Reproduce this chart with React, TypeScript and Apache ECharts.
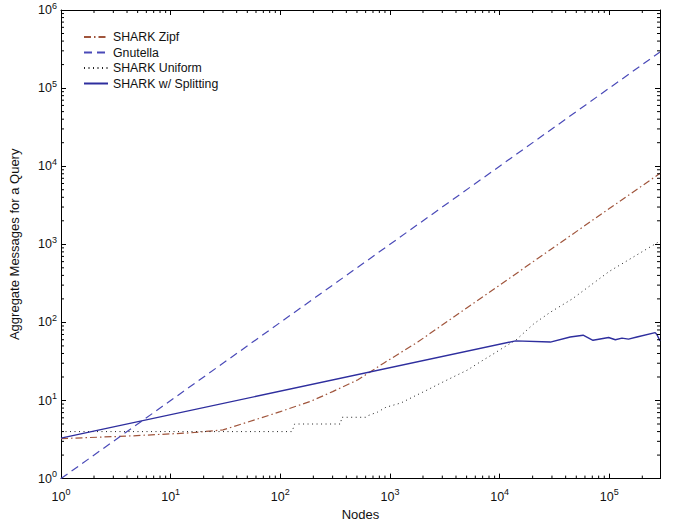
import React, { useEffect, useRef } from "react";
import * as echarts from "echarts";

const X_MIN = 1;
const X_MAX = 290000;
const Y_MIN = 1;
const Y_MAX = 1000000;

const gnutellaNodes = [1, 10, 100, 1000, 10000, 100000, 290000];
const gnutella = [1, 10, 100, 1000, 10000, 100000, 290000];

const zipfNodes = [1, 4, 15, 30, 67, 100, 190, 300, 440, 510, 890, 1790, 10000, 100000, 290000];
const zipf = [3.25, 3.5, 3.85, 4.2, 6.0, 7.2, 9.8, 13, 16.7, 18.4, 30.5, 56, 300, 2870, 8100];

const uniformNodes = [1, 128, 135, 355, 362, 600, 630, 770, 920, 1260, 1660, 2200, 2900, 3850, 5100, 6700, 8900, 11700, 14000, 20500, 29000, 46000, 100000, 290000];
const uniform = [4.0, 4.0, 5.0, 5.0, 6.1, 6.1, 6.4, 7.1, 8.2, 9.3, 11.3, 13.7, 16.7, 20.3, 24.6, 31.4, 40, 51, 59, 96, 135, 200, 450, 1100];

const splitNodes = [1, 14000, 29000, 44000, 57700, 71000, 98600, 113500, 130400, 149700, 178500, 262000, 271500, 290000];
const split = [3.3, 58, 56, 65, 68.5, 59, 64, 60, 63, 61, 65, 74, 70, 58];

const seriesNames = ["SHARK Zipf", "Gnutella", "SHARK Uniform", "SHARK w/ Splitting"];

const FONT = "'Liberation Sans', Arial, Helvetica, sans-serif";

function minorValues(min: number, max: number): number[] {
  const out: number[] = [];
  for (let e = 0; e <= 6; e++) {
    for (let m = 2; m <= 9; m++) {
      const v = m * Math.pow(10, e);
      if (v > min && v < max) out.push(v);
    }
  }
  return out;
}

function pairs(xs: number[], ys: number[]) {
  return xs.map((x, i) => [x, ys[i]]);
}

function expLabel(v: number) {
  const l = Math.log10(v);
  const e = Math.round(l);
  if (Math.abs(l - e) > 1e-6) return "";
  return `{b|10}{s|${e}}`;
}

const richLabel = {
  b: { fontSize: 12.5, fontFamily: FONT, color: "#111" },
  s: { fontSize: 9, fontFamily: FONT, color: "#111", padding: [0, 0, 9, 0] },
};

export default function App() {
  const ref = useRef<HTMLDivElement>(null);
  useEffect(() => {
    if (!ref.current) return;
    const chart = echarts.init(ref.current, undefined, { renderer: "svg" });
    const minorX = minorValues(X_MIN, X_MAX);
    const minorY = minorValues(Y_MIN, Y_MAX);
    const axisCommon = {
      type: "log" as const,
      logBase: 10,
      splitLine: { show: false },
      axisLine: { onZero: false, lineStyle: { color: "#000", width: 1 } },
      axisTick: { inside: true, length: 5, lineStyle: { color: "#000" } },
    };
    chart.setOption({
      animation: false,
      backgroundColor: "#fff",
      textStyle: { fontFamily: FONT },
      grid: { left: 59, top: 10, right: 23, bottom: 43 },
      legend: {
        data: seriesNames,
        orient: "vertical",
        left: 78,
        top: 26,
        itemWidth: 24,
        itemHeight: 14,
        itemGap: 3.5,
        itemStyle: { opacity: 0 },
        textStyle: { fontSize: 12.3, fontFamily: FONT, color: "#111" },
      },
      xAxis: [
        {
          ...axisCommon,
          min: X_MIN,
          max: X_MAX,
          position: "bottom",
          name: "Nodes",
          nameLocation: "middle",
          nameGap: 26,
          nameTextStyle: { fontSize: 13, fontFamily: FONT, color: "#111" },
          axisLabel: { formatter: expLabel, rich: richLabel, margin: 9, showMaxLabel: false },
        },
        {
          ...axisCommon,
          min: X_MIN,
          max: X_MAX,
          position: "top",
          axisLabel: { show: false },
        },
      ],
      yAxis: [
        {
          ...axisCommon,
          min: Y_MIN,
          max: Y_MAX,
          position: "left",
          name: "Aggregate Messages for a Query",
          nameLocation: "middle",
          nameGap: 40,
          nameTextStyle: { fontSize: 13, fontFamily: FONT, color: "#111" },
          axisLabel: { formatter: expLabel, rich: richLabel, margin: 4 },
        },
        {
          ...axisCommon,
          min: Y_MIN,
          max: Y_MAX,
          position: "right",
          axisLabel: { show: false },
        },
      ],
      series: [
        {
          name: "SHARK Zipf",
          type: "line",
          data: pairs(zipfNodes, zipf),
          symbol: "none",
          lineStyle: { color: "#a0553c", width: 1.2, type: [7, 3, 1.5, 3] },
          itemStyle: { color: "#a0553c" },
          z: 3,
        },
        {
          name: "Gnutella",
          type: "line",
          data: pairs(gnutellaNodes, gnutella),
          symbol: "none",
          lineStyle: { color: "#4a4ab8", width: 1.2, type: [8, 5] },
          itemStyle: { color: "#4a4ab8" },
          z: 3,
        },
        {
          name: "SHARK Uniform",
          type: "line",
          data: pairs(uniformNodes, uniform),
          symbol: "none",
          lineStyle: { color: "#222", width: 1, type: [1, 3.5] },
          itemStyle: { color: "#222" },
          z: 3,
        },
        {
          name: "SHARK w/ Splitting",
          type: "line",
          data: pairs(splitNodes, split),
          symbol: "none",
          lineStyle: { color: "#2e2e9e", width: 1.4, type: "solid" },
          itemStyle: { color: "#2e2e9e" },
          z: 4,
        },
        {
          type: "custom",
          silent: true,
          clip: false,
          z: 5,
          data: minorX.map((v) => [v, Y_MIN]),
          renderItem: (_p: any, api: any) => {
            const v = api.value(0);
            const b = api.coord([v, Y_MIN]);
            const t = api.coord([v, Y_MAX]);
            return {
              type: "group",
              children: [
                { type: "line", shape: { x1: b[0], y1: b[1], x2: b[0], y2: b[1] - 3 }, style: { stroke: "#000", lineWidth: 1 } },
                { type: "line", shape: { x1: t[0], y1: t[1], x2: t[0], y2: t[1] + 3 }, style: { stroke: "#000", lineWidth: 1 } },
              ],
            };
          },
        },
        {
          type: "custom",
          silent: true,
          clip: false,
          z: 5,
          data: minorY.map((v) => [X_MIN, v]),
          renderItem: (_p: any, api: any) => {
            const v = api.value(1);
            const l = api.coord([X_MIN, v]);
            const r = api.coord([X_MAX, v]);
            return {
              type: "group",
              children: [
                { type: "line", shape: { x1: l[0], y1: l[1], x2: l[0] + 3, y2: l[1] }, style: { stroke: "#000", lineWidth: 1 } },
                { type: "line", shape: { x1: r[0], y1: r[1], x2: r[0] - 3, y2: r[1] }, style: { stroke: "#000", lineWidth: 1 } },
              ],
            };
          },
        },
      ],
    });
    return () => chart.dispose();
  }, []);
  return (
    <div
      ref={ref}
      style={{ position: "fixed", left: 0, top: 0, width: 683, height: 526, background: "#fff" }}
    />
  );
}
